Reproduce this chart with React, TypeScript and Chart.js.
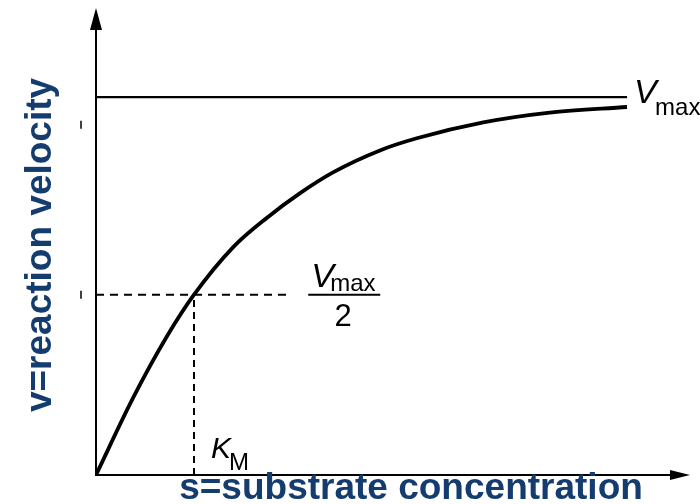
import React, { useEffect, useRef } from "react";
import { Chart, registerables } from "chart.js";

Chart.register(...registerables);

// Curve (s in axis units 0..10, v in axis units 0..10)
const curveS = [0, 0.62, 1.2, 1.65, 2.31, 2.88, 3.43, 3.99, 4.78, 5.4, 6.52, 7.64, 8.94];
const curveV = [0, 1.64, 2.98, 3.86, 4.88, 5.51, 6.03, 6.48, 6.95, 7.21, 7.55, 7.76, 7.88];

const vmax = 8.09;
const vmaxEnd = 8.94;
const halfV = 3.86;
const halfEnd = 3.27;
const km = 1.65;

const xTitle = "s=substrate concentration";
const yTitle = "v=reaction velocity";
const titleColor = "#143C6E";

const overlay = {
  id: "overlay",
  afterDraw(chart: any) {
    const { ctx, scales } = chart;
    const xs = scales.x;
    const ys = scales.y;
    const x0 = xs.getPixelForValue(0);
    const y0 = ys.getPixelForValue(0);
    const xEnd = xs.getPixelForValue(10);
    const yTop = ys.getPixelForValue(10);
    ctx.save();
    ctx.strokeStyle = "#000";
    ctx.fillStyle = "#000";
    ctx.lineWidth = 2;
    // y axis
    ctx.beginPath();
    ctx.moveTo(x0, y0 + 1);
    ctx.lineTo(x0, yTop + 14);
    ctx.stroke();
    ctx.beginPath();
    ctx.moveTo(x0, yTop);
    ctx.lineTo(x0 - 6, yTop + 22);
    ctx.lineTo(x0 + 6, yTop + 22);
    ctx.closePath();
    ctx.fill();
    // x axis
    ctx.beginPath();
    ctx.moveTo(x0 - 1, y0);
    ctx.lineTo(xEnd - 12, y0);
    ctx.stroke();
    ctx.beginPath();
    ctx.moveTo(xEnd, y0);
    ctx.lineTo(xEnd - 20, y0 - 5);
    ctx.lineTo(xEnd - 20, y0 + 5);
    ctx.closePath();
    ctx.fill();
    // small marks left of y axis
    ctx.lineWidth = 1.5;
    [ys.getPixelForValue(7.5), ys.getPixelForValue(halfV)].forEach((py: number) => {
      ctx.beginPath();
      ctx.moveTo(x0 - 15, py - 4);
      ctx.lineTo(x0 - 15, py + 4);
      ctx.stroke();
    });

    // Labels
    ctx.textBaseline = "alphabetic";
    ctx.textAlign = "left";
    const ff = '"Liberation Sans", Arial, sans-serif';
    // Vmax
    const vx = xs.getPixelForValue(vmaxEnd) + 7;
    const vy = ys.getPixelForValue(vmax) + 6;
    ctx.font = `italic 34px ${ff}`;
    ctx.fillText("V", vx, vy);
    ctx.font = `24px ${ff}`;
    ctx.fillText("max", vx + 21, vy + 12);
    // Vmax / 2
    const fx = xs.getPixelForValue(halfEnd) + 18;
    const fy = ys.getPixelForValue(halfV);
    ctx.font = `italic 34px ${ff}`;
    ctx.fillText("V", fx + 3, fy - 8);
    ctx.font = `24px ${ff}`;
    ctx.fillText("max", fx + 22, fy - 4);
    ctx.lineWidth = 2;
    ctx.beginPath();
    ctx.moveTo(fx, fy);
    ctx.lineTo(fx + 72, fy);
    ctx.stroke();
    ctx.font = `31px ${ff}`;
    ctx.textAlign = "center";
    ctx.fillText("2", fx + 35, fy + 31);
    // KM
    ctx.textAlign = "left";
    const kx = xs.getPixelForValue(km) + 17;
    ctx.font = `italic 30px ${ff}`;
    ctx.fillText("K", kx, y0 - 17);
    ctx.font = `24px ${ff}`;
    ctx.fillText("M", kx + 18, y0 - 5);

    // Axis titles
    ctx.fillStyle = titleColor;
    ctx.font = `bold 37px ${ff}`;
    ctx.textAlign = "center";
    ctx.fillText(xTitle, 411, 499);
    ctx.translate(51, 245);
    ctx.rotate(-Math.PI / 2);
    ctx.fillText(yTitle, 0, 0);
    ctx.restore();
  },
};

export default function App() {
  const ref = useRef<HTMLCanvasElement | null>(null);
  useEffect(() => {
    if (!ref.current) return;
    const chart = new Chart(ref.current, {
      type: "line",
      data: {
        datasets: [
          {
            data: curveS.map((s, i) => ({ x: s, y: curveV[i] })),
            borderColor: "#000",
            borderWidth: 3.8,
            pointRadius: 0,
            cubicInterpolationMode: "monotone",
            fill: false,
          },
          {
            data: [
              { x: 0, y: vmax },
              { x: vmaxEnd, y: vmax },
            ],
            borderColor: "#000",
            borderWidth: 2.2,
            pointRadius: 0,
          },
          {
            data: [
              { x: 0, y: halfV },
              { x: halfEnd, y: halfV },
            ],
            borderColor: "#000",
            borderWidth: 2,
            borderDash: [8, 6],
            pointRadius: 0,
          },
          {
            data: [
              { x: km, y: 0 },
              { x: km, y: halfV },
            ],
            borderColor: "#000",
            borderWidth: 2,
            borderDash: [7, 5],
            pointRadius: 0,
          },
        ],
      },
      options: {
        animation: false,
        responsive: false,
        layout: { padding: { left: 96, right: 10, top: 8, bottom: 29 } },
        plugins: { legend: { display: false }, tooltip: { enabled: false } },
        scales: {
          x: { type: "linear", min: 0, max: 10, display: false },
          y: { type: "linear", min: 0, max: 10, display: false },
        },
      },
      plugins: [overlay],
    });
    return () => chart.destroy();
  }, []);
  return (
    <div style={{ position: "fixed", left: 0, top: 0, width: 700, height: 504, background: "#fff" }}>
      <canvas ref={ref} width={700} height={504} style={{ display: "block" }} />
    </div>
  );
}
